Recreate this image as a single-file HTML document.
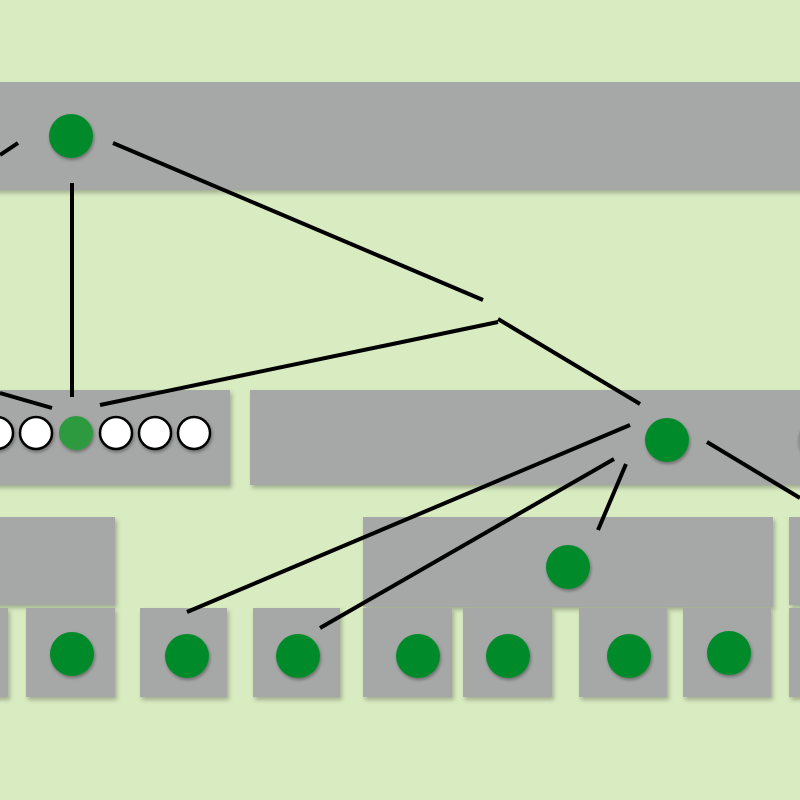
<!DOCTYPE html>
<html><head><style>
html,body{margin:0;padding:0;}
body{width:800px;height:800px;background:#d9ebc1;position:relative;overflow:hidden;}
.b{position:absolute;background:#a6a8a8;box-shadow:2px 3px 4px rgba(0,0,0,0.25);}
</style></head><body>
<div class="b" style="left:-10px;top:82px;width:820px;height:108px"></div>
<div class="b" style="left:-10px;top:390px;width:240px;height:95px"></div>
<div class="b" style="left:250px;top:390px;width:560px;height:95px"></div>
<div class="b" style="left:-10px;top:517px;width:125px;height:88px"></div>
<div class="b" style="left:363px;top:517px;width:410px;height:90px"></div>
<div class="b" style="left:789px;top:517px;width:30px;height:88px"></div>
<div class="b" style="left:-10px;top:608px;width:18px;height:89px"></div>
<div class="b" style="left:26px;top:608px;width:89px;height:89px"></div>
<div class="b" style="left:140px;top:608px;width:87px;height:89px"></div>
<div class="b" style="left:253px;top:608px;width:87px;height:89px"></div>
<div class="b" style="left:363px;top:608px;width:89px;height:89px"></div>
<div class="b" style="left:463px;top:608px;width:89px;height:89px"></div>
<div class="b" style="left:579px;top:608px;width:88px;height:89px"></div>
<div class="b" style="left:683px;top:608px;width:88px;height:89px"></div>
<div class="b" style="left:789px;top:608px;width:30px;height:89px"></div>
<svg width="800" height="800" style="position:absolute;left:0;top:0">
<defs><filter id="s"><feDropShadow dx="1" dy="2" stdDeviation="1.5" flood-opacity="0.35"/></filter></defs>
<g stroke="#000" stroke-width="4" fill="none">
<line x1="0" y1="155" x2="18" y2="143"/>
<line x1="72" y1="183" x2="72" y2="397"/>
<line x1="113" y1="143" x2="483" y2="300"/>
<line x1="498" y1="319" x2="640" y2="404"/>
<line x1="498" y1="322" x2="100" y2="405"/>
<line x1="0" y1="393" x2="52" y2="408"/>
<line x1="630" y1="425" x2="187" y2="612"/>
<line x1="614" y1="459" x2="320" y2="628"/>
<line x1="626" y1="464" x2="598" y2="530"/>
<line x1="707" y1="442" x2="800" y2="498"/>
</g>
<g filter="url(#s)">
<circle cx="820" cy="440" r="22" fill="#8f9191"/>
<circle cx="71" cy="136" r="22" fill="#028a2a"/>
<circle cx="667" cy="440" r="22" fill="#028a2a"/>
<circle cx="568" cy="567" r="22" fill="#028a2a"/>
<g fill="#028a2a">
<circle cx="72" cy="654" r="22"/><circle cx="187" cy="656" r="22"/><circle cx="298" cy="656" r="22"/>
<circle cx="418" cy="656" r="22"/><circle cx="508" cy="656" r="22"/><circle cx="629" cy="656" r="22"/><circle cx="729" cy="653" r="22"/>
</g>
<g fill="#fff" stroke="#000" stroke-width="2.5">
<circle cx="-3" cy="433" r="16"/><circle cx="36" cy="433" r="16"/>
<circle cx="116" cy="433" r="16"/><circle cx="155" cy="433" r="16"/><circle cx="194" cy="433" r="16"/>
</g>
<circle cx="76" cy="433" r="17" fill="#2e9a40"/>
</g>
</svg>
</body></html>
